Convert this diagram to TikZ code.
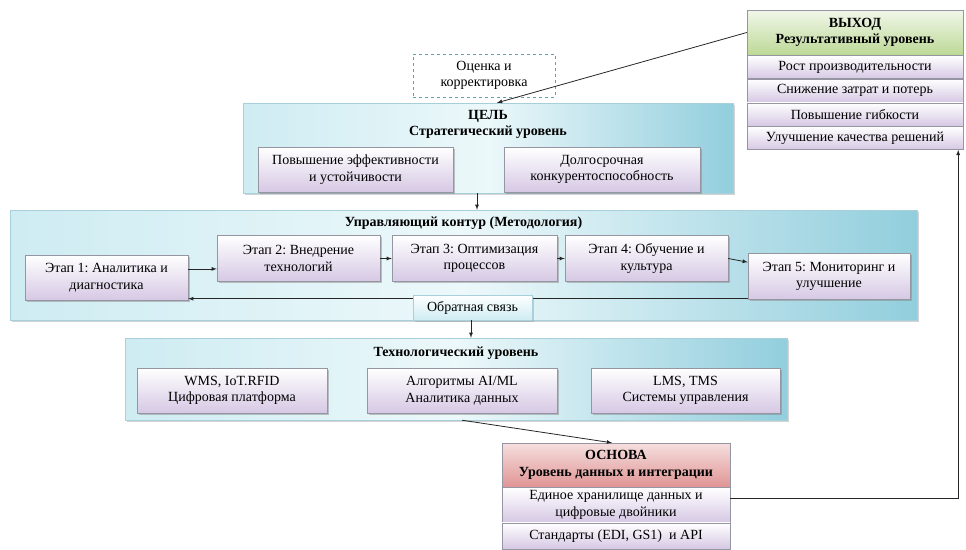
\documentclass[tikz,border=0pt]{standalone}
\usepackage{fontspec}
\setmainfont{Liberation Serif}
\usepackage{tikz}
\usetikzlibrary{shapes,arrows,positioning,calc,fit,backgrounds,shadows}
\usepackage{xcolor}
\frenchspacing
\definecolor{cyanlight}{RGB}{206,236,242}
\definecolor{cyanmid}{RGB}{236,248,250}
\definecolor{cyandark}{RGB}{146,206,221}
\definecolor{cyanedge}{RGB}{168,208,218}
\definecolor{lavender}{RGB}{214,200,228}
\definecolor{boxedge}{RGB}{150,150,162}
\definecolor{greenhead}{RGB}{188,216,150}
\definecolor{pinkhead}{RGB}{224,148,148}
\definecolor{dashteal}{RGB}{100,160,170}

\tikzset{
    every node/.style={font=\fontsize{14}{16.5}\selectfont, align=center, inner sep=0pt},
    lvlbox/.style={draw=cyanedge, left color=cyanlight, right color=cyandark, middle color=cyanmid,
        drop shadow={shadow xshift=1.5pt, shadow yshift=-2pt, opacity=.35}},
    subbox/.style={draw=boxedge, top color=white, bottom color=lavender,
        drop shadow={shadow xshift=1.5pt, shadow yshift=-1.5pt, opacity=.45}},
    rowbox/.style={draw=boxedge, top color=white, bottom color=lavender, minimum width=216pt, minimum height=23.25pt},
    greenhead/.style={draw=boxedge, top color=greenhead!20, bottom color=greenhead},
    pinkhead/.style={draw=boxedge, top color=pinkhead!30, bottom color=pinkhead},
    stagebox/.style={subbox, minimum width=163pt, minimum height=46pt},
    techbox/.style={subbox, minimum width=190pt, minimum height=45pt},
    arr/.style={-latex, line width=0.8pt, draw=black!85}
}

\begin{document}
\begin{tikzpicture}[x=1pt, y=-1pt]
    \useasboundingbox (0,0) rectangle (966,549);

    % output
    \node[greenhead, minimum width=216pt, minimum height=45pt] (outhead) at (855,32.5) {\textbf{ВЫХОД}\\\textbf{Результативный уровень}};
    \node[rowbox, below=0pt of outhead] (out1) {Рост производительности};
    \node[rowbox, below=0pt of out1] (out2) {Снижение затрат и потерь};
    \node[rowbox, below=0pt of out2] (out3) {Повышение гибкости};
    \node[rowbox, below=0pt of out3] (out4) {Улучшение качества решений};

    \node[draw=dashteal, dashed, minimum width=142pt, minimum height=43pt] (review) at (484,75.5) {Оценка и\\корректировка};

    % goal
    \node[lvlbox, minimum width=490pt, minimum height=90pt] (goal) at (488,148) {};
    \node (goaltitle) at (488,124.5) {\textbf{ЦЕЛЬ}\\\textbf{Стратегический уровень}};
    \node[subbox, minimum width=195pt, minimum height=45pt] (goal1) at (355.5,169.5) {Повышение эффективности\\и устойчивости};
    \node[subbox, minimum width=196pt, minimum height=45pt] (goal2) at (602,169.5) {Долгосрочная\\конкурентоспособность};

    % methodology
    \node[lvlbox, minimum width=907pt, minimum height=110pt] (method) at (463.5,265) {};
    \node (methodtitle) at (463.5,223) {\textbf{Управляющий контур (Методология)}};
    \node[stagebox, minimum height=45pt] (s1) at (106.5,277.5) {Этап 1: Аналитика и\\диагностика};
    \node[stagebox] (s2) at (298.5,258.5) {Этап 2: Внедрение\\технологий};
    \node[stagebox, minimum width=165pt] (s3) at (474.5,258.5) {Этап 3: Оптимизация\\процессов};
    \node[stagebox] (s4) at (646.5,258.5) {Этап 4: Обучение и\\культура};
    \node[stagebox, minimum width=162pt] (s5) at (829,276.5) {Этап 5: Мониторинг и\\улучшение};

    \draw[arr] (s1.6) -- (s1.6 -| s2.west);
    \draw[arr] (s2.east) -- (s3.west);
    \draw[arr] (s3.east) -- (s4.west);
    \draw[arr] (s4.east) -- (s5.170);
    \draw[arr] ([yshift=1pt]s5.south west) -- ([yshift=1pt]s5.south west -| s1.east);

    \node[draw=cyanedge, top color=white, bottom color=cyanlight, minimum width=119pt, minimum height=25pt,
        drop shadow={shadow xshift=1.5pt, shadow yshift=-1.5pt, opacity=.35}] (feedback) at (472.5,307.5) {Обратная связь};

    % technology
    \node[lvlbox, minimum width=662pt, minimum height=82pt] (tech) at (456,379) {};
    \node (techtitle) at (456,353) {\textbf{Технологический уровень}};
    \node[techbox] (t1) at (232,390.5) {WMS, IoT.RFID\\Цифровая платформа};
    \node[techbox] (t2) at (462,390.5) {Алгоритмы AI/ML\\Аналитика данных};
    \node[techbox, minimum width=189pt] (t3) at (685.5,390.5) {LMS, TMS\\Системы управления};

    % base
    \node[pinkhead, minimum width=228pt, minimum height=44pt] (basehead) at (616,465) {\textbf{ОСНОВА}\\\textbf{Уровень данных и интеграции}};
    \node[rowbox, minimum width=228pt, minimum height=35pt, below=0pt of basehead] (base1) {Единое хранилище данных и\\цифровые двойники};
    \node[rowbox, minimum width=228pt, minimum height=26pt, below=0pt of base1] (base2) {Стандарты (EDI, GS1)~ и API};

    \draw[arr] (outhead.west) -- ([xshift=9pt]goal.north);
    \draw[arr] ([xshift=-11pt]goal.south) -- ([xshift=-11pt]goal.south |- method.north);
    \draw[arr] ([xshift=-1.5pt]feedback.south) -- ([xshift=-1.5pt]feedback.south |- tech.north);
    \draw[arr] (t2.south |- tech.south) -- ([xshift=-4pt]basehead.north);
    \draw[arr] ([yshift=7pt]base1.east) -| ([xshift=-5pt]out4.south east);
\end{tikzpicture}
\end{document}
